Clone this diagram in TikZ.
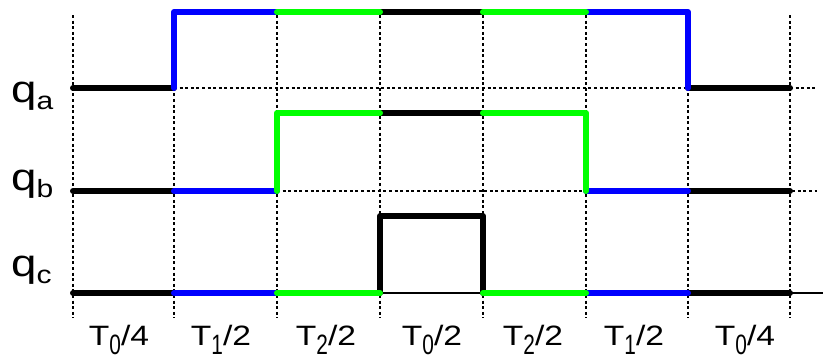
\documentclass[tikz,border=0pt]{standalone}
\usepackage{fontspec}
\setmainfont[FakeStretch=1.2]{Liberation Sans}
\usepackage{graphicx}
\definecolor{wblue}{RGB}{0,0,255}
\definecolor{wgreen}{RGB}{0,255,0}
\tikzset{
  guide/.style={line width=1.8pt, dash pattern=on 3pt off 2.6pt, line cap=butt},
  wave/.style={line width=6pt, line cap=round, line join=round},
  baseline/.style={line width=1.7pt},
  timelabel/.style={inner sep=0pt, anchor=base, font=\fontsize{28}{32}\selectfont},
  siglabel/.style={inner sep=0pt, anchor=base west, font=\fontsize{38}{42}\selectfont},
}
% subscript helpers
\newcommand{\tsub}[1]{\raisebox{-9pt}{\scalebox{0.62}[1.0]{#1}}}
\newcommand{\qsub}[1]{\raisebox{-7pt}{\fontsize{25}{25}\selectfont #1}}
\begin{document}
\begin{tikzpicture}[x=1pt,y=-1pt]
\useasboundingbox (0,0) rectangle (823,362);

% time instants
\foreach \n/\x in {0/73,1/174,2/277,3/380,4/483,5/586,6/688,7/790}
  \coordinate (t\n) at (\x,0);

% vertical dotted guides
\foreach \x in {73,174,277,380,483,586,688,790}
  \draw[guide] (\x,15) -- (\x,318);

% horizontal dotted reference levels
\draw[guide] (174,88) -- (817,88);
\draw[guide] (277,191) -- (817,191);

% thin zero line of q_c
\draw[baseline] (380,293) -- (483,293);
\draw[baseline] (790,293) -- (823,293);

% ---- black segments
\draw[wave] (73,88) -- (174,88);
\draw[wave] (380,12) -- (483,12);
\draw[wave] (688,88) -- (790,88);
\draw[wave] (73,191) -- (174,191);
\draw[wave] (380,113) -- (483,113);
\draw[wave] (688,191) -- (790,191);
\draw[wave] (73,293) -- (174,293);
\draw[wave] (380,293) -- (380,216) -- (483,216) -- (483,293);
\draw[wave] (688,293) -- (790,293);

% ---- blue segments
\draw[wave, wblue] (174,88) -- (174,12) -- (277,12);
\draw[wave, wblue] (586,12) -- (688,12) -- (688,88);
\draw[wave, wblue] (174,191) -- (277,191);
\draw[wave, wblue] (586,191) -- (688,191);
\draw[wave, wblue] (174,293) -- (277,293);
\draw[wave, wblue] (586,293) -- (688,293);

% ---- green segments
\draw[wave, wgreen] (277,12) -- (380,12);
\draw[wave, wgreen] (483,12) -- (586,12);
\draw[wave, wgreen] (277,191) -- (277,113) -- (380,113);
\draw[wave, wgreen] (483,113) -- (586,113) -- (586,191);
\draw[wave, wgreen] (277,293) -- (380,293);
\draw[wave, wgreen] (483,293) -- (586,293);

% signal names
\node[siglabel] (qa) at (11,102) {q\qsub{a}};
\node[siglabel] (qb) at (11,190) {q\qsub{b}};
\node[siglabel] (qc) at (11,276) {q\qsub{c}};

% interval durations
\node[timelabel] (d1) at (119,345) {T\tsub{0}/4};
\node[timelabel] (d2) at (221,345) {T\tsub{1}/2};
\node[timelabel] (d3) at (326,345) {T\tsub{2}/2};
\node[timelabel] (d4) at (432,345) {T\tsub{0}/2};
\node[timelabel] (d5) at (533,345) {T\tsub{2}/2};
\node[timelabel] (d6) at (634,345) {T\tsub{1}/2};
\node[timelabel] (d7) at (745,345) {T\tsub{0}/4};
\end{tikzpicture}
\end{document}
